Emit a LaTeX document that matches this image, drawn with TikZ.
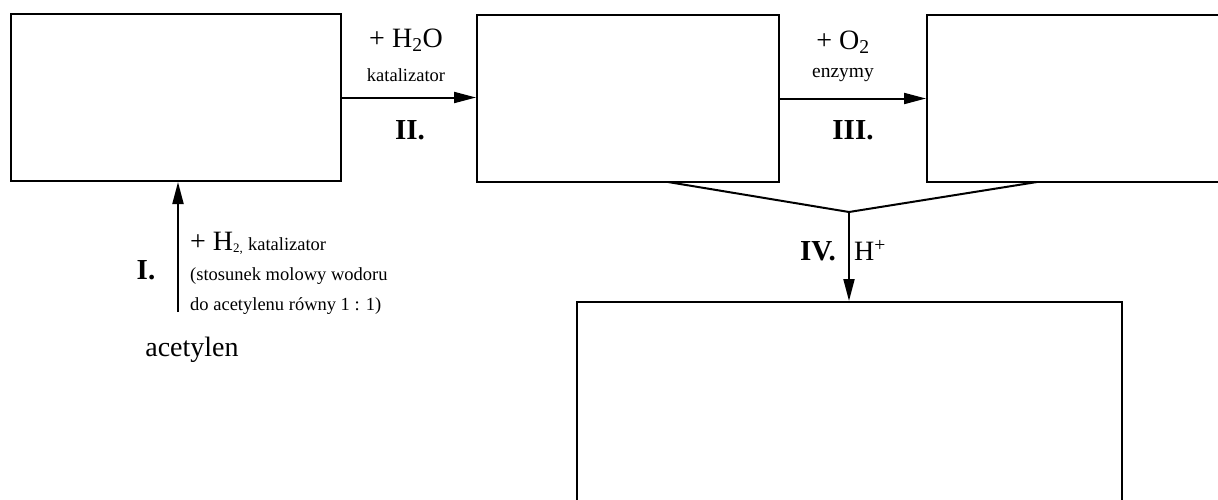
\documentclass[tikz,border=0pt]{standalone}
\usepackage{fontspec}
\setmainfont{Liberation Serif}
\usetikzlibrary{arrows.meta}
\tikzset{
  boxnode/.style={draw, line width=2pt, inner sep=0pt},
  arr/.style={line width=2pt, -{Triangle[length=22pt,width=11pt]}},
  ln/.style={line width=2pt},
  bigtxt/.style={font=\fontsize{28}{30}\selectfont, inner sep=0pt},
  smalltxt/.style={font=\fontsize{18.5}{30}\selectfont, inner sep=0pt},
  boldtxt/.style={font=\fontsize{29}{30}\selectfont\bfseries, inner sep=0pt}
}
\begin{document}
\begin{tikzpicture}[x=1pt,y=-1pt]
\useasboundingbox (0,0) rectangle (1218,499);
% boxes
\node[boxnode, minimum width=330pt, minimum height=167pt] (box1) at (176,97.5) {};
\node[boxnode, minimum width=302pt, minimum height=167pt] (box2) at (628,98.5) {};
\node[boxnode, minimum width=333pt, minimum height=167pt] (box3) at (1093.5,98.5) {};
\node[boxnode, minimum width=545pt, minimum height=238pt] (box4) at (849.5,421) {};
% reaction I
\coordinate (src) at (178,312);
\draw[arr] (src) -- (src |- box1.south);
\node[boldtxt] (l1) at (146,270) {I.};
\node[smalltxt, align=left, anchor=west] (c1) at (190,273) {{\fontsize{28}{30}\selectfont + H}\textsubscript{2,} katalizator\\(stosunek molowy wodoru\\do acetylenu równy 1 : 1)};
\node[bigtxt] (ac) at (192,350) {acetylen};
% reaction II
\draw[arr] (box1.east) -- (box1.east -| box2.west);
\node[bigtxt] (h2o) at (406,40) {+ H\textsubscript{2}O};
\node[smalltxt] (kat2) at (406,75) {katalizator};
\node[boldtxt] (l2) at (410,130) {II.};
% reaction III
\draw[arr] (box2.east) -- (box2.east -| box3.west);
\node[bigtxt] (o2) at (843,42) {+ O\textsubscript{2}};
\node[smalltxt, font=\fontsize{19.5}{30}\selectfont] (enz) at (843,75) {enzymy};
\node[boldtxt] (l3) at (853,130) {III.};
% reaction IV
\coordinate (b2) at (668,182);
\coordinate (b3) at (1037,182);
\coordinate (m) at (849,212);
\draw[ln] (b2) -- (m) -- (b3);
\draw[arr] (m) -- (m |- box4.north);
\node[boldtxt] (l4) at (818,251) {IV.};
\node[bigtxt] (hp) at (870,250) {H\textsuperscript{+}};
\end{tikzpicture}
\end{document}
